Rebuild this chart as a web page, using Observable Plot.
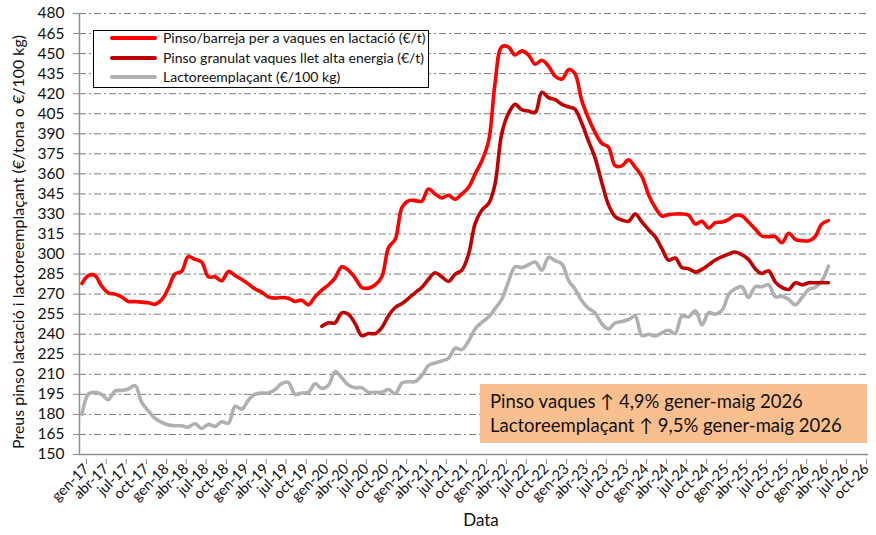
<!DOCTYPE html>
<html>
<head>
<meta charset="utf-8">
<script src="https://cdn.jsdelivr.net/npm/d3@7"></script>
<script src="https://cdn.jsdelivr.net/npm/@observablehq/plot@0.6"></script>
<style>
  html, body { margin: 0; padding: 0; background: #fff; }
  #wrap { position: relative; width: 876px; height: 535px; font-family: Lato, "Open Sans", sans-serif; }
  #legend { position: absolute; left: 93px; top: 30px; width: 334px; height: 56px; border: 1.3px solid #000; background: #fff; }
  .row { position: absolute; left: 0; height: 20px; line-height: 20px; display: flex; align-items: center; font-size: 14px; color: #111; white-space: nowrap; }
  .swatch { width: 47px; height: 4px; margin-left: 16px; margin-right: 6px; border-radius: 2px; }
  #note { position: absolute; left: 480px; top: 384px; width: 387px; height: 59px; background: #F9BF8F; font-size: 18.5px; color: #111; }
  #note div { position: absolute; left: 10px; white-space: nowrap; line-height: 22px; }
</style>
</head>
<body>
<div id="wrap"></div>
<script>
// Series names
const seriesNames = [
  "Pinso/barreja per a vaques en lactació (€/t)",
  "Pinso granulat vaques llet alta energia (€/t)",
  "Lactoreemplaçant (€/100 kg)"
];
const seriesColors = ["#FF0000", "#C00000", "#B0B0B0"];

// Monthly values from gen-17 (Jan 2017) to maig-26 (May 2026)
const pinsoLactacio = [
  278,284,284,276,271,270,268,264.5,264.5,264,263.5,262.5,
  266,275,285,287,298,296,294,283,283,280,287,284,
  281,277.5,274,271.5,268,267,267.5,267,264.5,265.5,262,268,
  273,277,282,290.5,288,282,275,274.5,277,283,305,311,
  335,340,340,339.5,348.7,345,342,344,341,345,350,360,
  370,385,427,455,455,449,452,449,442,445,440.5,433,
  431,438,435,415,402,391,383,380,366,366,370.5,365,
  358,344,335,328.5,329.5,330,330,329,322.5,324.5,319.5,323.5,
  324,326,329,328.5,324,318.7,313.5,313,313,308.5,315.5,311,
  310,310,313,322.5,325
];
// Monthly values from gen-20 (Jan 2020) to maig-26
const pinsoGranulat = [
  246,248.5,248.5,256,255,248,239,240.5,240.5,245,254,260,
  263,267,271,275,281,286,283,279.5,285,288,300,323,
  333,338,352,390,405,412,408,407,406,421,417,415.5,
  412,410,408.5,398,385,372,354,337,328,325.5,324.5,330,
  324,318,313,304,295.5,297,290,289,286.5,288.5,292,295.5,
  298,300,301.5,299.5,296,289,285.5,287.5,279,275,273.5,278.5,
  277,278.5,278.5,278.5,278.5
];
// Monthly values from gen-17 to maig-26
const lactoreemplacant = [
  180,195.5,196.5,195,191,197.5,198,199,201.5,189,182.5,177,
  174,172,171.5,171.5,170.5,173,169.5,172.5,171,174.5,173.5,186,
  184,191,195,196,196,198.5,203,204,195,196,196.5,203,
  199.5,202,212,207.5,202,200,200,196.5,196.5,196.5,198.7,195.5,
  203.5,204.5,204.5,209,216.5,218.5,220,222,229.5,228.5,235,244,
  249,253,259,266,279,290.5,290,292,294,288,297.5,295,
  292.5,280,274,265,259.5,256,248,244,248.5,249.5,251,253.5,
  239,240,238.7,241,243,240.5,253.5,253,257.5,247,256.2,255,
  258,270,274,275.5,267.5,275.5,275.5,277,268,268.5,266,262,
  267.5,273.7,275,280,291
];
const monthAbbr = ["gen","feb","març","abr","maig","juny","jul","ag","set","oct","nov","des"];
const yTicks = d3.range(150, 481, 15);
const yTitle = "Preus pinso lactació i lactoreemplaçant (€/tona o €/100 kg)";
const xTitle = "Data";
const noteLines = [
  "Pinso vaques ↑ 4,9% gener-maig 2026",
  "Lactoreemplaçant ↑ 9,5% gener-maig 2026"
];

const monthDate = (y0, m0, i) => new Date(Date.UTC(y0, m0 + i, 12));
const rows = [];
pinsoLactacio.forEach((v, i) => rows.push({s: seriesNames[0], date: monthDate(2017, 0, i), v}));
pinsoGranulat.forEach((v, i) => rows.push({s: seriesNames[1], date: monthDate(2020, 0, i), v}));
lactoreemplacant.forEach((v, i) => rows.push({s: seriesNames[2], date: monthDate(2017, 0, i), v}));

const x0 = new Date(Date.UTC(2017, 0, 1));
const x1 = new Date(Date.UTC(2026, 10, 11));
const xTicks = d3.utcMonth.every(3).range(x0, new Date(Date.UTC(2026, 10, 2)));

const chart = Plot.plot({
  width: 876,
  height: 535,
  marginLeft: 79,
  marginRight: 8,
  marginTop: 13,
  marginBottom: 81,
  style: {fontFamily: "Lato, sans-serif", fontSize: "15.5px", color: "#111", background: "#fff"},
  x: {type: "utc", domain: [x0, x1]},
  y: {domain: [150, 480]},
  color: {domain: seriesNames, range: seriesColors},
  marks: [
    Plot.ruleY(yTicks.filter(d => d > 150), {stroke: "#7a7a7a", strokeWidth: 1, strokeDasharray: "7,3,2,3"}),
    Plot.line(rows.filter(d => d.s === seriesNames[2]), {x: "date", y: "v", stroke: seriesColors[2], strokeWidth: 3.6, curve: "catmull-rom"}),
    Plot.line(rows.filter(d => d.s === seriesNames[1]), {x: "date", y: "v", stroke: seriesColors[1], strokeWidth: 3.6, curve: "catmull-rom"}),
    Plot.line(rows.filter(d => d.s === seriesNames[0]), {x: "date", y: "v", stroke: seriesColors[0], strokeWidth: 3.6, curve: "catmull-rom"}),
    Plot.axisY({ticks: yTicks, tickSize: 6, tickPadding: 9, stroke: "#8c8c8c", fill: "#111", label: null, fontSize: 15.5}),
    Plot.axisX({ticks: xTicks, tickSize: 5, tickPadding: 2, stroke: "#8c8c8c", fill: "#111", tickRotate: -45, fontSize: 14.5,
      tickFormat: d => `${monthAbbr[d.getUTCMonth()]}-${String(d.getUTCFullYear()).slice(2)}`, dx: 7, dy: 5,
      label: null}),
    Plot.text([yTitle], {frameAnchor: "left", textAnchor: "middle", rotate: -90, dx: -61, dy: 8, fontSize: 16, fill: "#111"}),
    Plot.text([xTitle], {frameAnchor: "bottom", dy: 71, dx: 7, fontSize: 17, fill: "#111"}),
    Plot.ruleX([x0], {stroke: "#8c8c8c", strokeWidth: 1.5}),
    Plot.ruleY([150], {stroke: "#8c8c8c", strokeWidth: 1.5})
  ]
});

const wrap = document.getElementById("wrap");
wrap.appendChild(chart);

const legend = document.createElement("div");
legend.id = "legend";
seriesNames.forEach((name, i) => {
  const r = document.createElement("div");
  r.className = "row";
  r.style.top = (-3 + i * 19.5) + "px";
  r.innerHTML = `<span class="swatch" style="background:${seriesColors[i]}"></span><span>${name}</span>`;
  legend.appendChild(r);
});
wrap.appendChild(legend);

const note = document.createElement("div");
note.id = "note";
noteLines.forEach((t, i) => {
  const d = document.createElement("div");
  d.style.top = (6 + i * 24) + "px";
  d.textContent = t;
  note.appendChild(d);
});
wrap.appendChild(note);
</script>
</body>
</html>
